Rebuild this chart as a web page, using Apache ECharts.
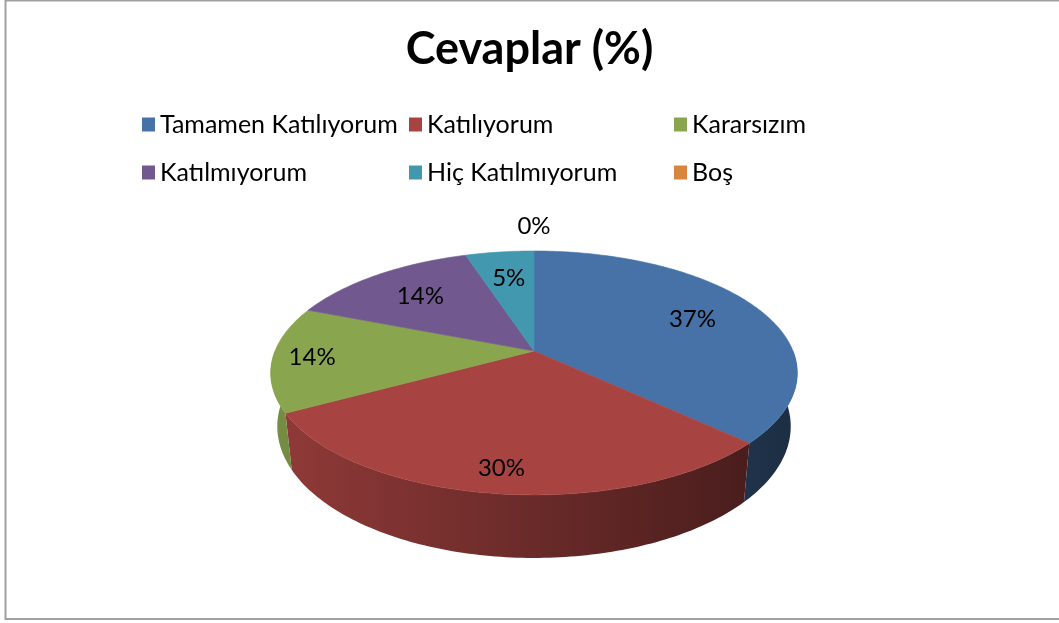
<!DOCTYPE html>
<html><head><meta charset="utf-8">
<script src="https://cdn.jsdelivr.net/npm/echarts@6/dist/echarts.min.js"></script>
<style>html,body{margin:0;padding:0;background:#fff}#c{width:1059px;height:623px}</style>
</head><body><div id="c"></div>
<script>
// ---- data ----
const chartTitle = 'Cevaplar (%)';
const categories = ['Tamamen Katılıyorum', 'Katılıyorum', 'Kararsızım', 'Katılmıyorum', 'Hiç Katılmıyorum', 'Boş'];
const values = [37, 30, 14, 14, 5, 0];
const colors = ['#4672A7', '#A74441', '#89A54E', '#71598F', '#4198AF', '#DB843D'];

// ---- 3D pie geometry (perspective ellipse) ----
const CX = 534, CY = 351, RX = 259, RY = 118, PERSP = 0.18, DEPTH = 51.7, BOTTOM_SCALE = 0.975;
const total = values.reduce((a, b) => a + b, 0);
const TWO_PI = Math.PI * 2;

function proj(theta, f) { // theta: clockwise from 12 o'clock; f: radius fraction
  const c = Math.sin(theta), s = -Math.cos(theta);
  const k = 1 / (1 - PERSP * s * f);
  return [CX + RX * f * c * k, CY + RY * f * s * k];
}
function projBottom(theta) {
  const s = -Math.cos(theta);
  const t = proj(theta, 1);
  return [CX + (t[0] - CX) * BOTTOM_SCALE, t[1] + DEPTH / (1 - PERSP * s)];
}
function shade(hex, k) {
  const n = parseInt(hex.slice(1), 16);
  const r = Math.round(((n >> 16) & 255) * k), g = Math.round(((n >> 8) & 255) * k), b = Math.round((n & 255) * k);
  return 'rgb(' + r + ',' + g + ',' + b + ')';
}
function arc(a0, a1, fn) {
  const pts = [];
  const n = Math.max(2, Math.ceil((a1 - a0) / (Math.PI / 180)));
  for (let j = 0; j <= n; j++) pts.push(fn(a0 + (a1 - a0) * j / n));
  return pts;
}

function makeRender(i) {
  return function (params, api) {
    let start = 0;
    for (let j = 0; j < i; j++) start += values[j];
    const v = api.value(0);
    const a0 = start / total * TWO_PI, a1 = (start + v) / total * TWO_PI;
    const children = [];
    if (v > 0) {
      // side (front half only)
      const lo = Math.max(a0, Math.PI / 2), hi = Math.min(a1, Math.PI * 1.5);
      if (hi > lo) {
        const top = arc(lo, hi, t => proj(t, 1));
        const bot = arc(lo, hi, projBottom).reverse();
        children.push({
          type: 'polygon', z2: 1,
          shape: { points: top.concat(bot) },
          style: {
            fill: { type: 'linear', global: true, x: CX - RX, y: 0, x2: CX + RX, y2: 0,
              colorStops: [{ offset: 0, color: shade(colors[i], 0.86) }, { offset: 1, color: shade(colors[i], 0.4) }] },
            stroke: null
          }
        });
      }
      const topPts = [[CX, CY]].concat(arc(a0, a1, t => proj(t, 1)));
      children.push({
        type: 'polygon', z2: 10,
        shape: { points: topPts },
        style: { fill: colors[i], stroke: colors[i], lineWidth: 0.6, lineJoin: 'round' }
      });
    }
    // label
    let lp;
    if (v > 0) {
      const mid = (a0 + a1) / 2;
      const s = -Math.cos(mid);
      const f = 0.7 + 0.15 * Math.min(1, Math.max(0, (s + 0.35) / 0.4));
      lp = proj(mid, f);
    } else {
      lp = proj(a0, 1.3);
    }
    children.push({
      type: 'text', z2: 20, x: lp[0], y: lp[1],
      style: { text: Math.round(v / total * 100) + '%', fill: '#000', fontSize: 24, fontFamily: 'Lato',
        align: 'center', verticalAlign: 'middle' }
    });
    return { type: 'group', children: children };
  };
}

const legendPos = [[142, 112], [409, 112], [674, 112], [142, 160], [409, 160], [674, 160]];

const option = {
  animation: false,
  backgroundColor: '#fff',
  title: {
    text: chartTitle, left: 'center', top: 27, padding: [0, 0, 0, 17],
    textStyle: { fontFamily: 'Lato', fontWeight: 'bold', fontSize: 45, color: '#000' }
  },
  legend: categories.map((name, i) => ({
    data: [name], left: legendPos[i][0], top: legendPos[i][1], padding: 0,
    icon: 'rect', itemWidth: 13, itemHeight: 14, selectedMode: false,
    textStyle: { fontFamily: 'Lato', fontSize: 25, color: '#000' }
  })),
  graphic: [{
    type: 'polyline', silent: true,
    shape: { points: [[1062, 0.5], [5.5, 0.5], [5.5, 619], [1062, 619]] },
    style: { stroke: '#a0a0a0', lineWidth: 2, fill: null }
  }],
  series: categories.map((name, i) => ({
    type: 'custom', name: name, coordinateSystem: 'none',
    itemStyle: { color: colors[i] },
    data: [values[i]],
    renderItem: makeRender(i)
  }))
};
const chart = echarts.init(document.getElementById('c'), null, { renderer: 'canvas' });
chart.setOption(option);
</script>
</body></html>
